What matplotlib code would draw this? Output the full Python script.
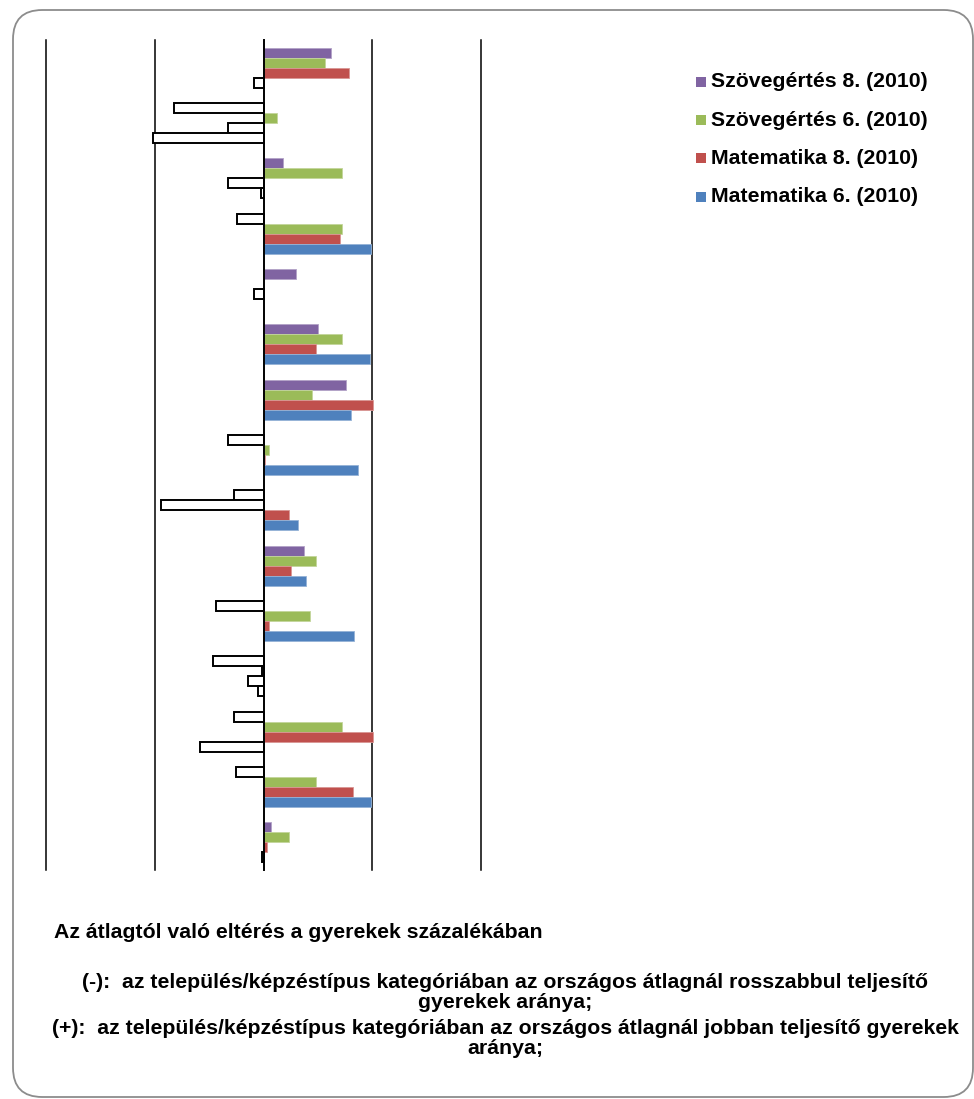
import matplotlib
matplotlib.use("Agg")
import matplotlib.pyplot as plt
from matplotlib.patches import FancyBboxPatch, Rectangle
import numpy as np

plt.rcParams['font.family'] = ['Liberation Sans', 'DejaVu Sans']

# ---- data ----
series_names = ["Szövegértés 8. (2010)", "Szövegértés 6. (2010)",
                "Matematika 8. (2010)", "Matematika 6. (2010)"]
series_colors = ["#8064A2", "#9BBB59", "#C0504D", "#4F81BD"]
edge_colors = ["#B3A2C7", "#C3D69B", "#D99694", "#95B3D7"]

szoveg8 = [6.2, -8.2, 1.8, -2.4, 3.0, 5.0, 7.6, -3.25, -2.7, 3.7, -4.35, -4.65, -2.7, -2.5, 0.65]
szoveg6 = [5.65, 1.2, 7.25, 7.25, np.nan, 7.25, 4.5, 0.55, -9.45, 4.85, 4.3, -0.1, 7.25, 4.85, 2.35]
matek8 = [7.85, -3.25, -3.25, 7.0, -0.85, 4.85, 10.1, 0.1, 2.3, 2.5, 0.5, -1.47, 10.1, 8.25, 0.33]
matek6 = [-0.9, -10.2, -0.2, 9.85, np.nan, 9.8, 8.0, 8.7, 3.15, 3.95, 8.35, -0.5, -5.8, 9.85, -0.15]
series_values = [szoveg8, szoveg6, matek8, matek6]
n_groups = len(szoveg8)

gridline_values = [-20, -10, 0, 10, 20]

title_text = "Az átlagtól való eltérés a gyerekek százalékában"
note_lines = [
    "(-):  az település/képzéstípus kategóriában az országos átlagnál rosszabbul teljesítő",
    "gyerekek aránya;",
    "(+):  az település/képzéstípus kategóriában az országos átlagnál jobban teljesítő gyerekek",
    "aránya;",
]

FS = 15.3

# ---- figure ----
W, H = 974, 1099
fig = plt.figure(figsize=(W / 100, H / 100), dpi=100)
fig.patch.set_facecolor("white")

# rounded border
border = FancyBboxPatch((13 / W, 1 - 1097 / H), (960 / W), (1087 / H),
                        boxstyle="round,pad=0,rounding_size=0.03",
                        transform=fig.transFigure, facecolor="none",
                        edgecolor="#8C8C8C", linewidth=1.3, mutation_aspect=W / H)
fig.patches.append(border)

ax_left, ax_right, ax_top, ax_bottom = 46, 481, 40, 870
ax = fig.add_axes([ax_left / W, 1 - ax_bottom / H, (ax_right - ax_left) / W,
                   (ax_bottom - ax_top) / H])
ax.set_xlim(-20, 20)
ax.set_ylim(n_groups - 0.5, -0.5)
for s in ax.spines.values():
    s.set_visible(False)
ax.set_xticks([])
ax.set_yticks([])
ax.patch.set_alpha(0)

for gv in gridline_values:
    ax.axvline(gv, color="black", linewidth=1.1 if gv != 0 else 1.4,
               zorder=1 if gv != 0 else 5, clip_on=False)

bar_h = 10 / ((ax_bottom - ax_top) / n_groups)
y = np.arange(n_groups)
for i, (vals, col, ecol) in enumerate(zip(series_values, series_colors, edge_colors)):
    vals = np.array(vals, dtype=float)
    pos = y + (i - 1.5) * bar_h
    posmask = vals >= 0
    negmask = vals < 0
    ax.barh(pos[posmask], vals[posmask], height=bar_h, color=col,
            edgecolor=ecol, linewidth=0.6, zorder=3)
    ax.barh(pos[negmask], vals[negmask], height=bar_h, color="white",
            edgecolor="black", linewidth=1.4, zorder=3)

# legend (manual)
leg_y = [81.7, 120, 158.3, 196.7]
for name, col, ly in zip(series_names, series_colors, leg_y):
    fig.patches.append(Rectangle((696 / W, 1 - (ly + 5) / H), 10 / W, 10 / H,
                                 transform=fig.transFigure, facecolor=col,
                                 edgecolor="none"))
    fig.text(711 / W, 1 - ly / H, name, fontsize=FS, fontweight="bold",
             va="center", ha="left")

fig.text(54 / W, 1 - 933 / H, title_text, fontsize=FS, fontweight="bold",
         va="center", ha="left")

note_y = [983, 1003, 1029, 1049]
for line, ny in zip(note_lines, note_y):
    fig.text(505 / W, 1 - ny / H, line, fontsize=FS, fontweight="bold",
             va="center", ha="center")

fig.savefig("out.png", dpi=100, facecolor="white")
